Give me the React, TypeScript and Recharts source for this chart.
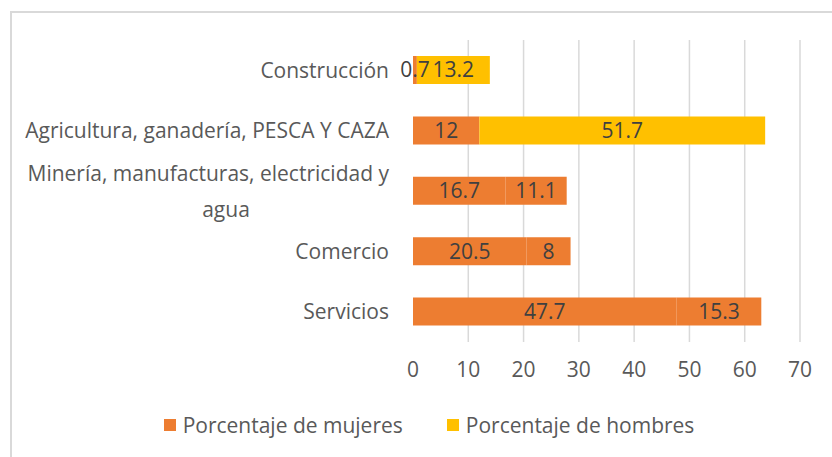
import React from "react";
import {
  BarChart,
  Bar,
  XAxis,
  YAxis,
  CartesianGrid,
  LabelList,
  Cell,
} from "recharts";

const categories = [
  "Construcción",
  "Agricultura, ganadería, PESCA Y CAZA",
  "Minería, manufacturas, electricidad y agua",
  "Comercio",
  "Servicios",
];
const mujeres = [0.7, 12, 16.7, 20.5, 47.7];
const hombres = [13.2, 51.7, 11.1, 8, 15.3];
const xTicks = [0, 10, 20, 30, 40, 50, 60, 70];
const X_MAX = 70;

const ORANGE = "#ED7D31";
const YELLOW = "#FFC000";
const FONT = "'Open Sans', 'Noto Sans', sans-serif";
const FS = 21;

// in the source picture the last three rows draw the men's part in orange too
const hombresColors = [YELLOW, YELLOW, ORANGE, ORANGE, ORANGE];

const data = categories.map((name, i) => ({
  name,
  mujeres: mujeres[i],
  hombres: hombres[i],
}));

const CategoryTick = (props: any) => {
  const { x, y, payload } = props;
  const label: string = payload.value;
  if (label.startsWith("Minería")) {
    return (
      <g>
        <text x={x - 16} y={y - 17} dy="0.35em" textAnchor="end" fill="#595959" fontSize={FS} fontFamily={FONT}>
          Minería, manufacturas, electricidad y
        </text>
        <text x={x - 179} y={y + 19} dy="0.35em" textAnchor="middle" fill="#595959" fontSize={FS} fontFamily={FONT}>
          agua
        </text>
      </g>
    );
  }
  return (
    <text x={x - 16} y={y} dy="0.35em" textAnchor="end" fill="#595959" fontSize={FS} fontFamily={FONT}>
      {label}
    </text>
  );
};

// grid lines at every tick except 0, like the reference
const gridLines = (props: any) => {
  const off = props.offset || {};
  const left = off.left ?? 413;
  const width = off.width ?? 387;
  return xTicks.filter((t) => t > 0).map((t) => left + (width * t) / X_MAX);
};

const LegendItem = ({ color, text }: { color: string; text: string }) => (
  <div style={{ display: "flex", alignItems: "center", gap: 7 }}>
    <div style={{ width: 12, height: 12, background: color }} />
    <span style={{ color: "#595959", fontSize: FS, fontFamily: FONT }}>{text}</span>
  </div>
);

export default function App() {
  return (
    <div
      style={{
        position: "absolute",
        left: 0,
        top: 0,
        width: 832,
        height: 457,
        overflow: "hidden",
        background: "#fff",
      }}
    >
      <div
        style={{
          position: "absolute",
          left: 10,
          top: 11,
          width: 860,
          height: 480,
          border: "2px solid #d9d9d9",
        }}
      />
      <div style={{ position: "absolute", left: 0, top: 0 }}>
        <BarChart
          width={832}
          height={457}
          layout="vertical"
          data={data}
          margin={{ top: 40, right: 32, bottom: 75, left: 0 }}
          barSize={28}
        >
          <CartesianGrid
            horizontal={false}
            stroke="#d9d9d9"
            strokeWidth={1.5}
            verticalCoordinatesGenerator={gridLines}
          />
          <XAxis
            type="number"
            domain={[0, X_MAX]}
            ticks={xTicks}
            axisLine={false}
            tickLine={false}
            tickMargin={14}
            height={40}
            tick={{ fill: "#595959", fontSize: FS, fontFamily: FONT }}
          />
          <YAxis
            type="category"
            dataKey="name"
            width={413}
            axisLine={false}
            tickLine={false}
            tick={<CategoryTick />}
          />
          <Bar dataKey="mujeres" stackId="a" fill={ORANGE} isAnimationActive={false}>
            <LabelList dataKey="mujeres" position="center" fill="#404040" fontSize={FS} fontFamily={FONT} />
          </Bar>
          <Bar dataKey="hombres" stackId="a" fill={YELLOW} isAnimationActive={false}>
            {data.map((d, i) => (
              <Cell key={d.name} fill={hombresColors[i]} />
            ))}
            <LabelList dataKey="hombres" position="center" fill="#404040" fontSize={FS} fontFamily={FONT} />
          </Bar>
        </BarChart>
      </div>
      <div
        style={{
          position: "absolute",
          top: 411,
          left: 0,
          width: 832,
          display: "flex",
          justifyContent: "center",
          gap: 44,
          paddingLeft: 26,
          boxSizing: "border-box",
        }}
      >
        <LegendItem color={ORANGE} text="Porcentaje de mujeres" />
        <LegendItem color={YELLOW} text="Porcentaje de hombres" />
      </div>
    </div>
  );
}
